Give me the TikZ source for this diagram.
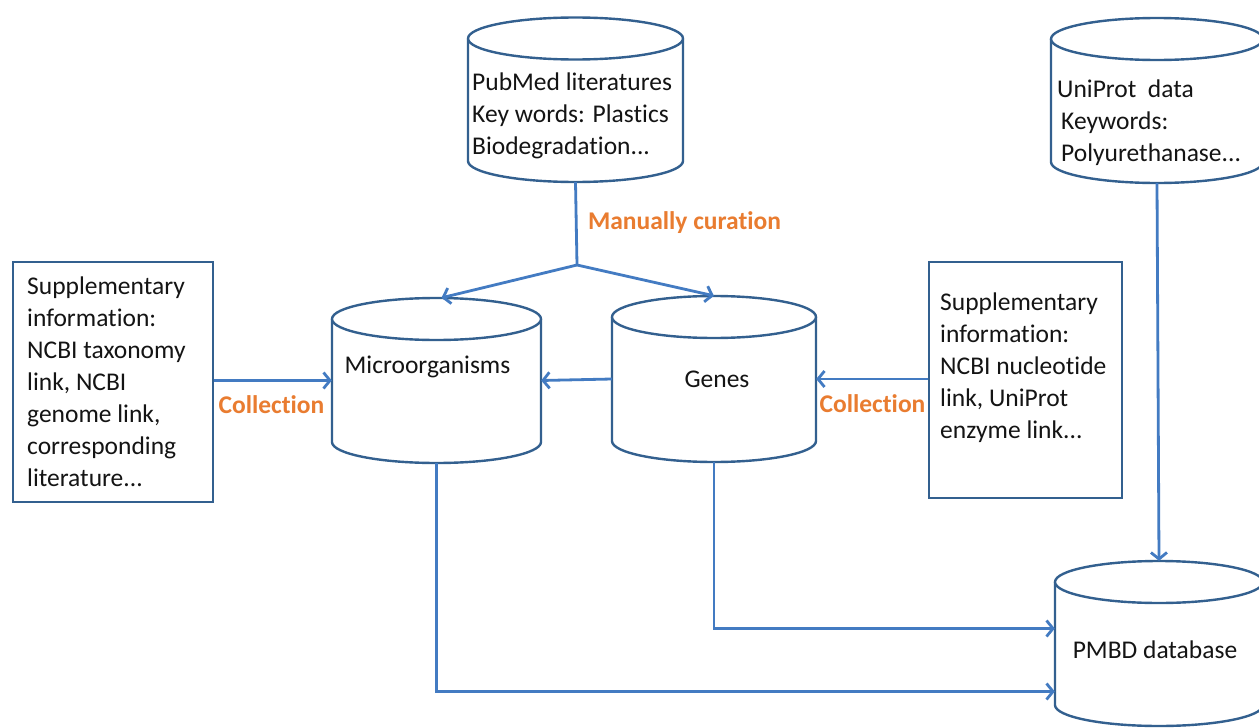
\documentclass[tikz,border=0pt]{standalone}
\usepackage{fontspec}
\setmainfont{Carlito}[RawFeature={-liga;-clig;-calt;-dlig}]
\usetikzlibrary{arrows.meta,calc}
\definecolor{connblue}{HTML}{437BC2}
\definecolor{edgeblue}{HTML}{33608F}
\definecolor{labelorange}{HTML}{E97C30}
\definecolor{inktext}{HTML}{141414}
\tikzset{
  cylline/.style={draw=edgeblue, line width=2.4pt, fill=white},
  boxline/.style={draw=edgeblue, line width=2.2pt, fill=white, inner sep=0pt},
  connline/.style={draw=connblue, line width=2.8pt},
  conn/.style={connline, -{Straight Barb[length=6.5pt,width=16pt]}},
  txt/.style={font=\fontsize{25.5}{32}\selectfont, text=inktext, inner sep=0pt, align=left},
  lbl/.style={font=\fontsize{25.5}{32}\selectfont\bfseries, text=labelorange, inner sep=0pt},
}
% name, cx, ytop-centre, ybottom-centre, half width, ry
\newcommand\dbcyl[6]{%
  \draw[cylline] (#2-#5,#3) -- (#2-#5,#4)
    arc[start angle=180,end angle=0,x radius=#5,y radius=#6] -- (#2+#5,#3);
  \draw[cylline] (#2,#3) ellipse[x radius=#5, y radius=#6];
  \node[inner sep=0pt, minimum width={2*#5*1pt}, minimum height={(#4-#3+2*#6)*1pt}]
    (#1) at (#2,{(#3+#4)/2}) {};
}
\begin{document}
\begin{tikzpicture}[x=1pt,y=-1pt]
\useasboundingbox (0,0) rectangle (1259,728);
\fill[white] (0,0) rectangle (1259,728);
\clip (0,0) rectangle (1259,728);

% cylinders
\dbcyl{pubmed}{575.5}{38.5}{161}{107.5}{21}
\dbcyl{uniprot}{1157}{39}{162}{106}{21}
\dbcyl{micro}{436.5}{319}{442}{104.5}{21}
\dbcyl{genes}{714}{317}{441}{102}{21}
\dbcyl{pmbd}{1159}{582}{705}{104}{21}

% boxes
\node[boxline, minimum width=200pt, minimum height=240pt] (leftbox) at (113,382) {};
\node[boxline, minimum width=193pt, minimum height=236pt] (rightbox) at (1025.5,380) {};

% texts
\node[txt, anchor=west] (pubmedtext) at (472,115.5)
  {PubMed literatures\\Key words: Plastics\\Biodegradation...};
\node[txt, anchor=west] (uniprottext) at (1057,122.5)
  {UniProt\ \ data\\\hspace*{4pt}Keywords:\\\hspace*{4pt}Polyurethanase...};
\node[txt, anchor=west] (lefttext) at (27,381.5)
  {Supplementary\\information:\\NCBI taxonomy\\link, NCBI\\genome link,\\corresponding\\literature...};
\node[txt, anchor=west] (righttext) at (940,367.5)
  {Supplementary\\information:\\NCBI nucleotide\\link, UniProt\\enzyme link...};
\node[txt] (microtext) at (427.5,367) {Microorganisms};
\node[txt] (genestext) at (717,379) {Genes};
\node[txt] (pmbdtext) at (1155,650) {PMBD database};

% labels
\node[lbl] (curation) at (684.5,223) {Manually curation};
\node[lbl] (collectL) at (271.5,405) {Collection};
\node[lbl] (collectR) at (872.5,404) {Collection};

% connectors
\coordinate (split) at (577,265);
\draw[connline] (pubmed.south) -- (split);
\draw[conn] (split) -- ([xshift=5pt]micro.north);
\draw[conn] (split) -- (genes.north);
\draw[conn] (leftbox.east |- micro.west) -- (micro.west);
\draw[conn] (genes.west) -- (micro.east);
\draw[conn] (rightbox.west |- genes.east) -- (genes.east);
\draw[conn] (uniprot.south) -- (pmbd.north);
\draw[conn] (genes.south) |- ($(pmbd.west)+(0,-15)$);
\draw[conn] (micro.south) |- ($(pmbd.west)+(0,48)$);
\end{tikzpicture}
\end{document}
